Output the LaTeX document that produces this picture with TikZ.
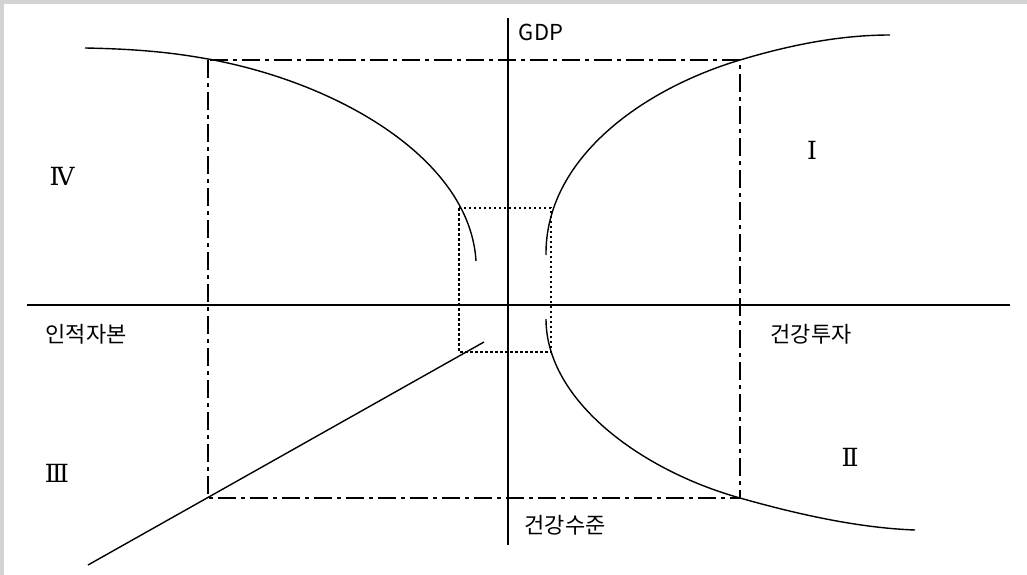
\documentclass[tikz,border=0pt]{standalone}
\usepackage{fontspec}
\setmainfont{DejaVu Serif}
\newfontfamily\kr{Noto Sans CJK KR}
\newfontfamily\rom{DejaVu Serif}
\begin{document}
\begin{tikzpicture}[x=1pt,y=-1pt,
  axis/.style={line width=1.4pt,black},
  curve/.style={line width=1.4pt,black},
  dashdot/.style={line width=1.2pt,dash pattern=on 18pt off 5pt on 4pt off 5pt},
  dotbox/.style={line width=1.2pt,dash pattern=on 2.5pt off 2.5pt},
  lab/.style={font=\kr\fontsize{22}{24}\selectfont,inner sep=0pt},
  roman/.style={font=\rom\fontsize{25}{27}\selectfont,inner sep=0pt}]
\useasboundingbox (0,0) rectangle (1027,575);
\fill[white] (0,0) rectangle (1027,575);
\fill[gray!35] (0,0) rectangle (1027,4);
\fill[gray!35] (0,0) rectangle (4,575);
% axes
\coordinate (xl) at (27,305);
\coordinate (xr) at (1010,305);
\coordinate (yt) at (508,18);
\coordinate (yb) at (508,545);
\draw[axis] (xl) -- (xr);
\draw[axis] (yt) -- (yb);
% boxes
\draw[dashdot] (208,60) rectangle (740,498);
\draw[dotbox] (459,208) rectangle (551,352);
% curves
\draw[curve] (85,48) .. controls (140,49) and (175,53) .. (208,59)
                     .. controls (340,83) and (470,160) .. (476,261);
\draw[curve] (546,255) .. controls (545,160) and (640,90) .. (740,60)
                       .. controls (790,45) and (840,35) .. (890,35);
\draw[curve] (546,319) .. controls (546,400) and (640,470) .. (740,498)
                       .. controls (800,515) and (860,528) .. (915,530);
\coordinate (l1) at (88,565);
\coordinate (l2) at (484,342);
\draw[curve] (l1) -- (l2);
% labels
\node[lab] (gdp) at (541,32) {GDP};
\node[lab] (hi) at (811,334) {건강투자};
\node[lab] (hc) at (86,334) {인적자본};
\node[lab] (hl) at (565,525) {건강수준};
\node[roman] (q1) at (812,150) {Ⅰ};
\node[roman] (q2) at (850,457) {Ⅱ};
\node[roman] (q3) at (57,473) {Ⅲ};
\node[roman] (q4) at (62,176) {Ⅳ};
\end{tikzpicture}
\end{document}
